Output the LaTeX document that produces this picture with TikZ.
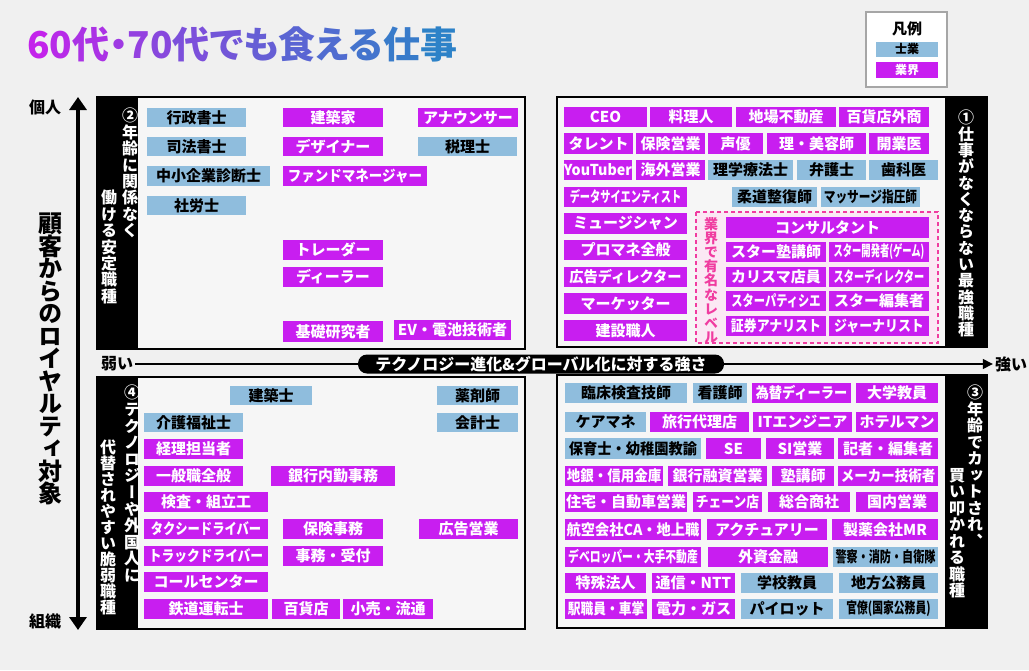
\documentclass[tikz,border=0pt]{standalone}
\usepackage{fontspec}
\setmainfont{Noto Sans CJK JP}
\newfontfamily\vertfont{Noto Sans CJK JP}[RawFeature=+vert]
\newfontfamily\paltfont{Noto Sans CJK JP}[RawFeature=+palt]
\usepackage{graphicx}
\usepackage{xcolor}
\usetikzlibrary{arrows.meta,positioning}
\definecolor{bggray}{RGB}{240,240,240}
\definecolor{panelgray}{RGB}{246,246,246}
\definecolor{shigyoblue}{RGB}{143,189,221}
\definecolor{gyokaipurple}{RGB}{200,30,240}
\definecolor{famepink}{RGB}{240,60,160}
\definecolor{famefill}{RGB}{251,232,244}
\definecolor{titlestart}{RGB}{195,35,235}
\definecolor{titleend}{RGB}{45,130,200}
\newcommand{\boxfont}{\bfseries\fontsize{15}{15}\selectfont}
\newcommand{\vfont}[2]{\vertfont\bfseries\fontsize{#1}{#2}\selectfont\lineskiplimit=-20pt\lineskip=0pt}

\begin{document}
\begin{tikzpicture}[x=1pt,y=-1pt,
  shigyo/.style={fill=shigyoblue,text=black,inner sep=0pt,font=\boxfont},
  gyokai/.style={fill=gyokaipurple,text=white,inner sep=0pt,font=\boxfont},
  panel/.style={draw=black,line width=2pt,fill=panelgray},
  sidetext/.style={text=white,align=center,inner sep=0pt,anchor=north,font={\vfont{16}{16.4}}},
  axislabel/.style={inner sep=2pt,font=\bfseries\fontsize{16}{16}\selectfont}]

  \fill[bggray] (0,0) rectangle (1029,670);
  \useasboundingbox (0,0) rectangle (1029,670);

  % title
  \node[anchor=base west,inner sep=0pt,font=\paltfont\bfseries\fontsize{37}{37}\selectfont] (title) at (27,58)
    {\foreach \ch [count=\cnt] in {6,0,代,・,7,0,代,で,も,食,え,る,仕,事}{%
      \pgfmathtruncatemacro\pc{100-(\cnt-1)*100/13}%
      \textcolor{titlestart!\pc!titleend}{\ch}}};

  % legend
  \draw[gray!70,line width=1.2pt,fill=white] (866,12) rectangle (947,87);
  \node[inner sep=0pt,font=\bfseries\fontsize{15}{15}\selectfont] (legtitle) at (907,29) {凡例};
  \node[shigyo,minimum width=62pt,minimum height=15pt,font=\bfseries\fontsize{12}{12}\selectfont,below=5pt of legtitle] (legshigyo) {士業};
  \node[gyokai,minimum width=62pt,minimum height=16pt,font=\bfseries\fontsize{12}{12}\selectfont,below=5pt of legshigyo] (leggyokai) {業界};

  % axes
  \coordinate (ytop) at (78,97);
  \coordinate (ybot) at (78,630);
  \draw[line width=4pt,{Triangle[width=17pt,length=13pt]}-{Triangle[width=17pt,length=13pt]}] (ytop) -- (ybot);
  \node[axislabel] (kojin) at (45,107) {個人};
  \node[axislabel] (soshiki) at (45,621) {組織};
  \node[align=center,inner sep=0pt,anchor=north,font={\vfont{24}{22.5}}] (loyalty) at (50,213)
    {顧\\客\\か\\ら\\の\\ロ\\イ\\ヤ\\ル\\テ\\ィ\\対\\象};

  \node[axislabel] (weak) at (117,364) {弱い};
  \node[axislabel] (strong) at (1011,364) {強い};
  \draw[line width=1.3pt,-{Triangle[width=10pt,length=10pt]}] (weak) -- (strong);
  \node[fill=black,rounded corners=9pt,minimum width=366pt,minimum height=19pt,inner sep=0pt,
    text=white,font=\bfseries\fontsize{16}{16}\selectfont] (techaxis) at (541,364)
    {テクノロジー進化\&グローバル化に対する強さ};

  % panels
  \draw[panel] (97,97) rectangle (525,349);
  \fill (97,97) rectangle (138,349);
  \draw[panel] (557,97) rectangle (987,347);
  \fill (945,97) rectangle (987,347);
  \draw[panel] (97,377) rectangle (525,629);
  \fill (97,377) rectangle (138,629);
  \draw[panel] (557,375) rectangle (987,628);
  \fill (945,375) rectangle (987,628);

  % (2) top left
  \foreach \nm/\xa/\ya/\xb/\yb/\tx in {gyosei/147/108/246/127/行政書士, shiho/147/137/246/156/司法書士,
      chusho/147/166/270/186/中小企業診断士, sharo/147/196/246/215/社労士, zeiri/418/137/517/156/税理士}
    \node[shigyo,minimum width={(\xb-\xa)*1pt},minimum height={(\yb-\ya)*1pt}] (\nm) at ({(\xa+\xb)/2},{(\ya+\yb)/2}) {\tx};
  \foreach \nm/\xa/\ya/\xb/\yb/\tx in {kenchikuka/283/108/383/127/建築家, designer/283/137/383/156/デザイナー,
      fund/283/166/427/186/\scalebox{0.9}[1]{ファンドマネージャー}, trader/283/240/383/260/トレーダー,
      dealer/283/267/383/287/ディーラー, kiso/283/321/383/342/基礎研究者, ev/394/320/511/340/EV・電池技術者,
      announcer/418/108/518/127/アナウンサー}
    \node[gyokai,minimum width={(\xb-\xa)*1pt},minimum height={(\yb-\ya)*1pt}] (\nm) at ({(\xa+\xb)/2},{(\ya+\yb)/2}) {\tx};
  \node[sidetext] (q2side) at (130,108) {②\\年\\齢\\に\\関\\係\\な\\く};
  \node[sidetext] (q2sideb) at (109,190) {働\\け\\る\\安\\定\\職\\種};

  % (1) top right
  \draw[famepink,fill=famefill,line width=1.2pt,dash pattern=on 4pt off 3pt] (696,212) rectangle (938,343);
  \node[text=famepink,align=center,inner sep=0pt,anchor=north,font={\vfont{14}{14.2}}] (famous) at (711,217)
    {業\\界\\で\\有\\名\\な\\レ\\ベ\\ル};
  \foreach \nm/\xa/\ya/\xb/\yb/\tx in {rigaku/708/160/793/180/理学療法士, bengo/797/160/866/180/弁護士,
      shika/869/160/938/180/歯科医, judo/732/187/817/207/柔道整復師,
      massage/821/187/920/207/\scalebox{0.78}[1]{マッサージ指圧師}}
    \node[shigyo,minimum width={(\xb-\xa)*1pt},minimum height={(\yb-\ya)*1pt}] (\nm) at ({(\xa+\xb)/2},{(\ya+\yb)/2}) {\tx};
  \foreach \nm/\xa/\ya/\xb/\yb/\tx in {ceo/564/107/647/127/CEO, chef/650/107/732/127/料理人,
      jiba/736/107/836/127/地場不動産, hyakka/839/107/929/127/百貨店外商,
      talent/564/133/633/154/タレント, hoken/636/133/705/154/保険営業, seiyu/708/133/763/154/声優,
      biyo/767/133/866/154/理・美容師, kaigyo/869/133/929/154/開業医,
      youtuber/564/160/632/180/\scalebox{0.95}[1]{YouTuber}, kaigai/636/160/705/180/海外営業,
      data/564/187/687/207/\scalebox{0.68}[1]{データサイエンティスト},
      music/564/213/687/234/ミュージシャン, proma/564/240/687/260/プロマネ全般,
      kokoku/564/267/687/287/\scalebox{0.95}[1]{広告ディレクター}, marketer/564/293/687/314/マーケッター,
      kensetsu/564/320/687/341/建設職人, consul/726/217/929/238/コンサルタント,
      juku/726/242/826/262/スター塾講師, gamedev/829/242/929/262/\scalebox{0.62}[1]{スター開発者(ゲーム)},
      charisma/726/267/826/287/カリスマ店員, stardir/829/267/929/287/\scalebox{0.68}[1]{スターディレクター},
      patissier/726/291/826/311/\scalebox{0.75}[1]{スターパティシエ}, editor/829/291/929/311/スター編集者,
      analyst/726/316/826/336/\scalebox{0.86}[1]{証券アナリスト}, journal/829/316/929/336/\scalebox{0.86}[1]{ジャーナリスト}}
    \node[gyokai,minimum width={(\xb-\xa)*1pt},minimum height={(\yb-\ya)*1pt}] (\nm) at ({(\xa+\xb)/2},{(\ya+\yb)/2}) {\tx};
  \node[sidetext,font={\vfont{16}{16.3}}] (q1side) at (966,110) {①\\仕\\事\\が\\な\\く\\な\\ら\\な\\い\\最\\強\\職\\種};

  % (4) bottom left
  \foreach \nm/\xa/\ya/\xb/\yb/\tx in {kenchikushi/230/386/312/405/建築士, yakuzai/437/386/518/405/薬剤師,
      kaigo/144/413/243/432/介護福祉士, kaikei/437/413/518/432/会計士}
    \node[shigyo,minimum width={(\xb-\xa)*1pt},minimum height={(\yb-\ya)*1pt}] (\nm) at ({(\xa+\xb)/2},{(\ya+\yb)/2}) {\tx};
  \foreach \nm/\xa/\ya/\xb/\yb/\tx in {keiri/144/439/243/459/経理担当者, ippan/144/466/243/486/一般職全般,
      ginko/271/466/395/486/銀行内勤事務, kensa/144/492/268/512/検査・組立工,
      taxi/144/519/268/539/\scalebox{0.82}[1]{タクシードライバー}, hokenjimu/283/519/383/539/保険事務,
      kokokueigyo/419/519/518/539/広告営業, truck/144/546/268/566/\scalebox{0.85}[1]{トラックドライバー},
      uketsuke/283/546/383/566/事務・受付, call/144/572/268/592/コールセンター,
      tetsudo/144/599/268/619/鉄道運転士, depart/272/599/340/619/百貨店, kouri/343/599/433/619/小売・流通}
    \node[gyokai,minimum width={(\xb-\xa)*1pt},minimum height={(\yb-\ya)*1pt}] (\nm) at ({(\xa+\xb)/2},{(\ya+\yb)/2}) {\tx};
  \node[sidetext,font={\vfont{16}{16.6}}] (q4side) at (132,385) {④\\テ\\ク\\ノ\\ロ\\ジ\\ー\\や\\外\\国\\人\\に};
  \node[sidetext,font={\vfont{16}{16}}] (q4sideb) at (108,440) {代\\替\\さ\\れ\\や\\す\\い\\脆\\弱\\職\\種};

  % (3) bottom right
  \foreach \nm/\xa/\ya/\xb/\yb/\tx in {rinsho/565/383/687/403/臨床検査技師, kango/693/383/747/403/看護師,
      caremane/565/412/646/432/ケアマネ, hoiku/565/438/701/459/\scalebox{0.95}[1]{保育士・幼稚園教諭},
      keisatsu/833/547/938/567/\scalebox{0.74}[1]{警察・消防・自衛隊}, gakko/741/573/833/593/学校教員,
      chiho/839/573/938/593/地方公務員, pilot/741/599/833/619/パイロット,
      kanryo/839/599/938/619/\scalebox{0.72}[1]{官僚(国家公務員)}}
    \node[shigyo,minimum width={(\xb-\xa)*1pt},minimum height={(\yb-\ya)*1pt}] (\nm) at ({(\xa+\xb)/2},{(\ya+\yb)/2}) {\tx};
  \foreach \nm/\xa/\ya/\xb/\yb/\tx in {kawase/752/383/851/403/\scalebox{0.88}[1]{為替ディーラー}, daigaku/856/383/938/403/大学教員,
      ryoko/650/412/749/432/旅行代理店, it/753/412/852/432/ITエンジニア, hotel/856/412/938/432/ホテルマン,
      se/706/438/761/459/SE, si/766/438/834/459/SI営業, kisha/838/438/938/459/記者・編集者,
      chigin/565/466/663/486/\scalebox{0.9}[1]{地銀・信用金庫}, yushi/668/466/767/486/銀行融資営業,
      jukukoshi/772/466/834/486/塾講師, maker/838/466/938/486/\scalebox{0.9}[1]{メーカー技術者},
      jutaku/565/492/687/512/住宅・自動車営業, chain/693/492/762/512/\scalebox{0.85}[1]{チェーン店},
      shosha/768/492/850/512/総合商社, kokunai/856/492/938/512/国内営業,
      koku/565/519/701/540/\scalebox{0.95}[1]{航空会社CA・地上職}, actuary/707/519/827/540/アクチュアリー,
      mr/832/519/938/540/製薬会社MR, developer/565/547/701/567/\scalebox{0.72}[1]{デベロッパー・大手不動産},
      gaishi/708/547/828/567/外資金融, tokushu/565/573/646/593/特殊法人, ntt/652/573/735/593/通信・NTT,
      eki/565/599/647/619/\scalebox{0.85}[1]{駅職員・車掌}, denryoku/652/599/735/619/電力・ガス}
    \node[gyokai,minimum width={(\xb-\xa)*1pt},minimum height={(\yb-\ya)*1pt}] (\nm) at ({(\xa+\xb)/2},{(\ya+\yb)/2}) {\tx};
  \node[sidetext,font={\vfont{16}{16.5}}] (q3side) at (975,385) {③\\年\\齢\\で\\カ\\ッ\\ト\\さ\\れ\\、};
  \node[sidetext,font={\vfont{16}{16.5}}] (q3sideb) at (957,468) {買\\い\\叩\\か\\れ\\る\\職\\種};
\end{tikzpicture}
\end{document}
